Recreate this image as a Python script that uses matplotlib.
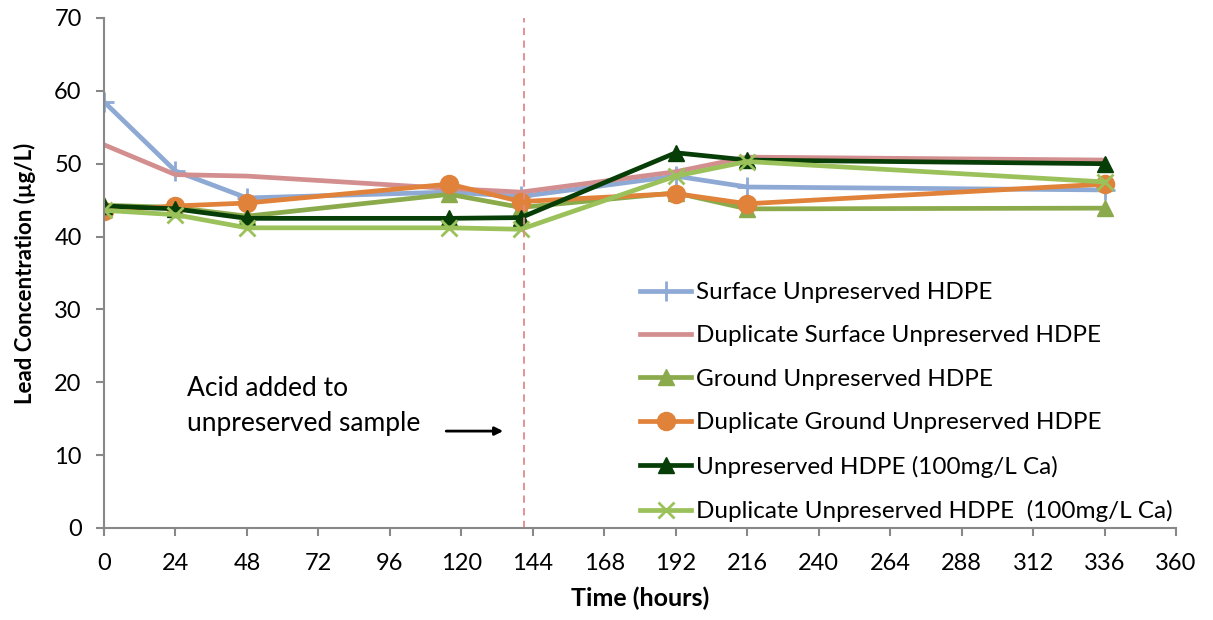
import matplotlib
matplotlib.use("Agg")
import matplotlib.pyplot as plt

plt.rcParams['font.family'] = ['Lato', 'DejaVu Sans']

hours = [0, 24, 48, 116, 140, 192, 216, 336]

surface = [58.5, 49.0, 45.3, 46.1, 45.5, 48.3, 46.8, 46.4]
dup_surface = [52.6, 48.5, 48.3, 46.6, 46.1, 48.9, 50.9, 50.5]
ground = [44.3, 44.0, 42.8, 45.8, 44.0, 46.0, 43.8, 43.9]
dup_ground = [43.5, 44.2, 44.6, 47.2, 44.8, 45.9, 44.5, 47.2]
ca = [44.2, 43.8, 42.5, 42.5, 42.6, 51.5, 50.5, 50.0]
dup_ca = [43.6, 43.0, 41.2, 41.2, 41.0, 48.3, 50.3, 47.5]

acid_time = 141

fig = plt.figure(figsize=(12.13, 6.2), dpi=100)
ax = fig.add_axes([0.0857, 0.1484, 0.8838, 0.8226])

lw = 3.4
ax.plot(hours, surface, color='#8eaad4', lw=lw, marker='+', ms=14, mew=2,
        label='Surface Unpreserved HDPE')
ax.plot(hours, dup_surface, color='#d38f8f', lw=lw,
        label='Duplicate Surface Unpreserved HDPE')
ax.plot(hours, ground, color='#8aaa4c', lw=lw, marker='^', ms=12,
        label='Ground Unpreserved HDPE')
ax.plot(hours, dup_ground, color='#e0823a', lw=lw, marker='o', ms=13,
        label='Duplicate Ground Unpreserved HDPE')
ax.plot(hours, ca, color='#073d07', lw=lw, marker='^', ms=12,
        label='Unpreserved HDPE (100mg/L Ca)')
ax.plot(hours, dup_ca, color='#9bc15a', lw=lw, marker='x', ms=12, mew=2,
        label='Duplicate Unpreserved HDPE  (100mg/L Ca)')

# acid dosing marker
ax.axvline(acid_time, color='#e08a8a', ls=(0, (4, 3)), lw=1.3)

ax.text(28, 16.7, 'Acid added to\nunpreserved sample', fontsize=19,
        va='center', ha='left', linespacing=1.5)
ax.annotate('', xy=(135, 13.3), xytext=(114, 13.3),
            arrowprops=dict(arrowstyle='-|>', color='black', lw=2,
                            mutation_scale=12))

ax.set_xlim(0, 360)
ax.set_ylim(0, 70)
ax.set_xticks(range(0, 361, 24))
ax.set_yticks(range(0, 71, 10))
ax.tick_params(labelsize=17, length=6, width=1.5, color='#888888',
               direction='out')
ax.tick_params(axis='x', pad=12)
ax.tick_params(axis='y', pad=10)
for side in ['top', 'right']:
    ax.spines[side].set_visible(False)
for side in ['left', 'bottom']:
    ax.spines[side].set_color('#888888')
    ax.spines[side].set_linewidth(1.5)

ax.set_xlabel('Time (hours)', fontsize=18, fontweight='bold', labelpad=9)
ax.set_ylabel('Lead Concentration (µg/L)', fontsize=16, fontweight='bold',
              labelpad=13)

ax.legend(loc='upper left', bbox_to_anchor=(0.48, 0.525), frameon=False,
          fontsize=17.5, handlelength=2.1, labelspacing=0.92,
          handletextpad=0.2)

fig.savefig('out.png', dpi=100)
